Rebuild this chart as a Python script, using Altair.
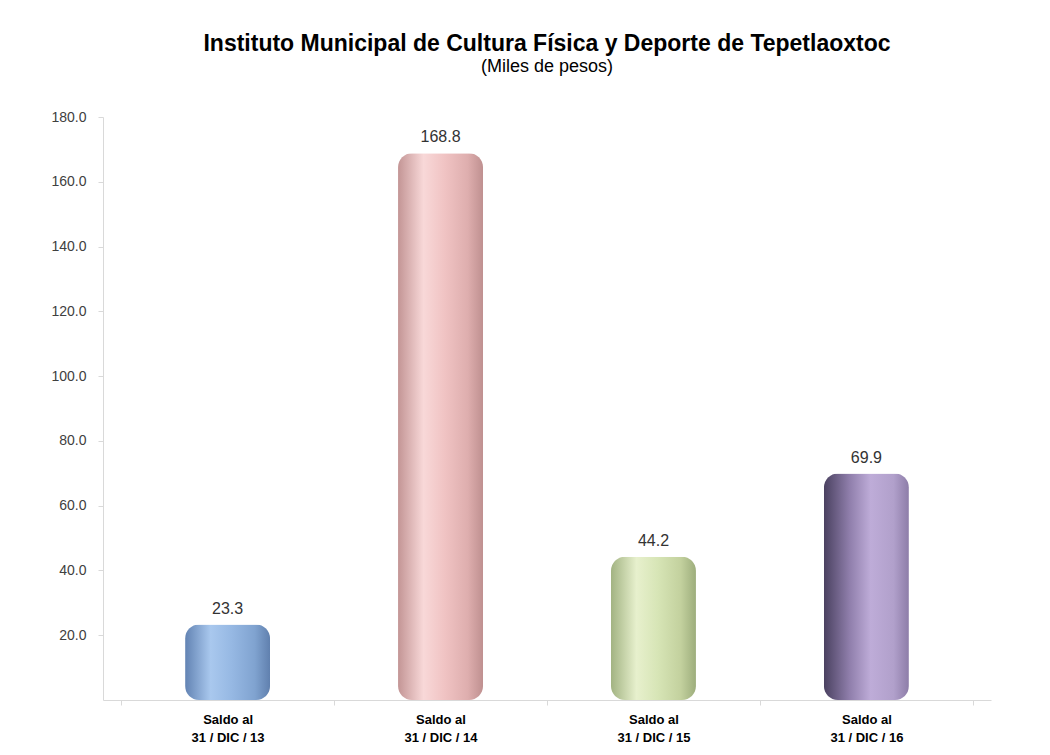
import altair as alt
import pandas as pd

categories = ["Saldo al|31 / DIC / 13", "Saldo al|31 / DIC / 14",
              "Saldo al|31 / DIC / 15", "Saldo al|31 / DIC / 16"]
values = [23.3, 168.8, 44.2, 69.9]
y_ticks = [20, 40, 60, 80, 100, 120, 140, 160, 180]

bar_stops = [
    ["#6283B3", "#A9C8EE", "#96B8E3", "#80A3D0", "#6080AE"],
    ["#C39595", "#F8D8D8", "#F0C3C3", "#DEAEAE", "#BF9090"],
    ["#A2B382", "#E7F0CD", "#D7E5B6", "#C3D19E", "#9DAD7C"],
    ["#4A4160", "#8F7EAB", "#BEACD8", "#B1A0CB", "#8D7DA8"],
]
stop_offsets = [0.0, 0.3, 0.55, 0.82, 1.0]

df = pd.DataFrame({"cat": categories, "val": values})

x_enc = alt.X(
    "cat:N", sort=categories, title=None,
    scale=alt.Scale(paddingInner=0, paddingOuter=0.085),
    axis=alt.Axis(
        labelExpr="split(datum.label, '|')", labelAngle=0,
        labelFont="Liberation Sans", labelFontSize=13, labelFontWeight="bold",
        labelColor="#000000", labelPadding=8, labelLineHeight=18,
        domainColor="#D9D9D9", tickColor="#D9D9D9", tickBand="extent",
        tickSize=5,
    ),
)
y_enc = alt.Y(
    "val:Q", title=None,
    scale=alt.Scale(domain=[0, 180], nice=False),
    axis=alt.Axis(
        values=y_ticks, format=".1f", grid=False,
        labelFont="Liberation Sans", labelFontSize=14, labelColor="#404040",
        labelPadding=12, domainColor="#D9D9D9", tickColor="#D9D9D9", tickSize=5,
    ),
)

layers = []
for cat, stops in zip(categories, bar_stops):
    grad = alt.Gradient(
        gradient="linear", x1=0, x2=1, y1=0, y2=0,
        stops=[alt.GradientStop(color=c, offset=o) for c, o in zip(stops, stop_offsets)],
    )
    layers.append(
        alt.Chart(df).transform_filter(alt.datum.cat == cat)
        .mark_bar(color=grad, width=85, cornerRadius=14)
        .encode(x=x_enc, y=y_enc)
    )

text = alt.Chart(df).mark_text(
    baseline="bottom", dy=-8, font="Liberation Sans", fontSize=16, color="#333333"
).encode(x=x_enc, y=y_enc, text=alt.Text("val:Q", format=".1f"))

chart = alt.layer(*layers, text).properties(
    width=888, height=583,
    autosize=alt.AutoSizeParams(type="none"),
    padding={"left": 95, "top": 109, "right": 50, "bottom": 50},
    background="white",
    title=alt.TitleParams(
        text="Instituto Municipal de Cultura Física y Deporte de Tepetlaoxtoc",
        subtitle="(Miles de pesos)",
        font="Liberation Sans", fontSize=23, fontWeight="bold", color="#000000",
        subtitleFont="Liberation Sans", subtitleFontSize=18, subtitleColor="#000000",
        anchor="middle", offset=34, subtitlePadding=2,
    ),
).configure_view(stroke=None)

chart.save("out.html", embed_options={"renderer": "svg", "actions": False})
